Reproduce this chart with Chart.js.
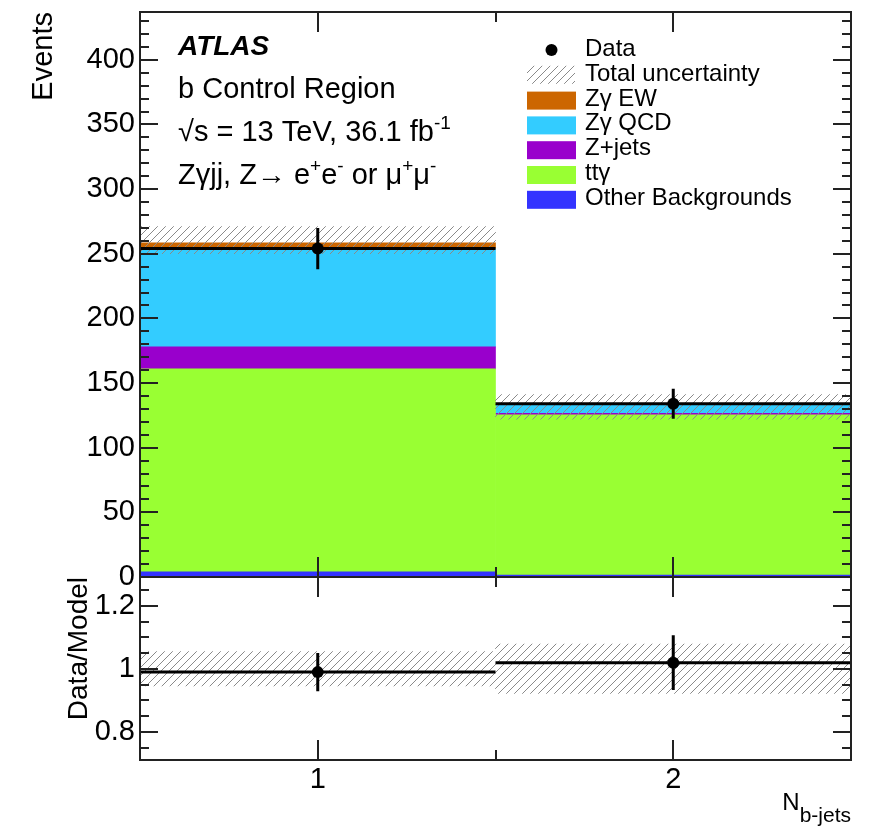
<!DOCTYPE html>
<html>
<head>
<meta charset="utf-8">
<script src="https://cdn.jsdelivr.net/npm/chart.js@4.4.0/dist/chart.umd.min.js"></script>
<style>
  html, body { margin: 0; padding: 0; background: #fff; }
  #wrap { position: relative; width: 874px; height: 829px; }
  #mainBox { position: absolute; left: 0; top: 0; width: 874px; height: 600px; }
  #ratioBox { position: absolute; left: 0; top: 560px; width: 874px; height: 269px; }
</style>
</head>
<body>
<div id="wrap">
  <div id="mainBox"><canvas id="mainChart"></canvas></div>
  <div id="ratioBox"><canvas id="ratioChart"></canvas></div>
</div>
<script>
// N b-jets bins
const bins = ['1', '2'];

// MC contributions, stacked bottom to top
const otherBkg = [4, 1.5];
const ttgamma = [157, 124];
const zjets = [17, 1.1];
const zgQCD = [76, 6.2];
const zgEW = [4.5, 0.8];

// total uncertainty band (events)
const uncLow = [250, 122];
const uncHigh = [271, 141];

// data
const dataVals = [254, 134];
const dataErr = [16, 11.6];

// data / model
const ratioVals = [0.99, 1.02];
const ratioErr = [0.061, 0.087];
const ratioUncLow = [0.946, 0.922];
const ratioUncHigh = [1.055, 1.079];

const eventTicks = [0, 50, 100, 150, 200, 250, 300, 350, 400];
const ratioTicks = [0.8, 1, 1.2];

const FONT = '"Liberation Sans", Arial, Helvetica, sans-serif';
const LABEL_SIZE = 29;
Chart.defaults.font.family = FONT;
Chart.defaults.color = '#000';

// diagonal hatch for the uncertainty band
const hatchCanvas = document.createElement('canvas');
hatchCanvas.width = hatchCanvas.height = 8;
const hg = hatchCanvas.getContext('2d');
hg.strokeStyle = '#8a8a8a';
hg.lineWidth = 1;
hg.beginPath();
hg.moveTo(0, 8); hg.lineTo(8, 0);
hg.moveTo(-1, 1); hg.lineTo(1, -1);
hg.moveTo(7, 9); hg.lineTo(9, 7);
hg.stroke();
const hatch = hg.createPattern(hatchCanvas, 'repeat');

const layers = [
  { label: 'Other Backgrounds', values: otherBkg, color: '#3333ff' },
  { label: 'tt\u03b3', values: ttgamma, color: '#99ff33' },
  { label: 'Z+jets', values: zjets, color: '#9900cc' },
  { label: 'Z\u03b3 QCD', values: zgQCD, color: '#33ccff' },
  { label: 'Z\u03b3 EW', values: zgEW, color: '#cc6600' }
];

const base = bins.map(() => 0);
const stackSets = layers.map(l => ({
  type: 'bar',
  label: l.label,
  data: l.values.map((v, i) => {
    const lo = base[i];
    base[i] += v;
    return [lo, base[i]];
  }),
  backgroundColor: l.color,
  order: 5
}));

// text with super/subscripts: parts = [[text, 'sup'|'sub'|undefined], ...]
function richText(ctx, x, y, parts, size) {
  parts.forEach(([t, mode]) => {
    const s = mode ? Math.round(size * 0.65) : size;
    ctx.font = s + 'px ' + FONT;
    const dy = mode === 'sup' ? -size * 0.42 : mode === 'sub' ? size * 0.3 : 0;
    ctx.fillText(t, x, y + dy);
    x += ctx.measureText(t).width;
  });
  return x;
}

// horizontal data line across each bin plus vertical error bars
function histMarks(values, errors) {
  return {
    id: 'histMarks',
    afterDatasetsDraw(chart) {
      const { ctx, scales: { x, y } } = chart;
      const half = x.width / bins.length / 2;
      ctx.save();
      ctx.strokeStyle = '#000';
      ctx.lineWidth = 3;
      ctx.beginPath();
      values.forEach((v, i) => {
        const cx = x.getPixelForValue(i);
        const py = y.getPixelForValue(v);
        ctx.moveTo(cx - half, py);
        ctx.lineTo(cx + half, py);
        ctx.moveTo(cx, y.getPixelForValue(v - errors[i]));
        ctx.lineTo(cx, y.getPixelForValue(v + errors[i]));
      });
      ctx.stroke();
      ctx.restore();
    }
  };
}

// frame with inward ticks on all four sides
function frameTicks(majors, minorStart, minorStep) {
  return {
    id: 'frameTicks',
    afterDraw(chart) {
      const { ctx, chartArea: a, scales: { x, y } } = chart;
      const half = x.width / bins.length / 2;
      ctx.save();
      ctx.strokeStyle = '#222';
      ctx.lineWidth = 2;
      ctx.beginPath();
      for (let k = 0; ; k++) {
        const v = minorStart + k * minorStep;
        if (v > y.max) break;
        if (v < y.min) continue;
        const major = majors.some(m => Math.abs(m - v) < 1e-6);
        const len = major ? 18 : 9;
        const py = Math.round(y.getPixelForValue(v));
        ctx.moveTo(a.left, py); ctx.lineTo(a.left + len, py);
        ctx.moveTo(a.right, py); ctx.lineTo(a.right - len, py);
      }
      bins.forEach((b, i) => {
        const cx = x.getPixelForValue(i);
        [[cx, 20], [cx - half, 10], [cx + half, 10]].forEach(([px, len]) => {
          px = Math.round(px);
          ctx.moveTo(px, a.bottom); ctx.lineTo(px, a.bottom - len);
          ctx.moveTo(px, a.top); ctx.lineTo(px, a.top + len);
        });
      });
      ctx.stroke();
      ctx.strokeRect(a.left, a.top, a.right - a.left, a.bottom - a.top);
      ctx.restore();
    }
  };
}

// ATLAS label and legend
const atlasText = {
  id: 'atlasText',
  afterDraw(chart) {
    const ctx = chart.ctx;
    ctx.save();
    ctx.fillStyle = '#000';
    ctx.textAlign = 'left';
    ctx.textBaseline = 'alphabetic';
    ctx.font = 'italic bold 28px ' + FONT;
    ctx.fillText('ATLAS', 178, 55);
    richText(ctx, 178, 98, [['b Control Region']], 29);
    richText(ctx, 178, 141, [['\u221as = 13 TeV, 36.1 fb'], ['-1', 'sup']], 29);
    richText(ctx, 178, 184, [['Z\u03b3jj, Z\u2192 e'], ['+', 'sup'], ['e'], ['-', 'sup'],
      [' or \u03bc'], ['+', 'sup'], ['\u03bc'], ['-', 'sup']], 29);

    const rowY = k => 56 + k * 24.8;
    const textX = 585, boxX = 527, boxW = 49, boxH = 18;
    ctx.font = '24px ' + FONT;
    ctx.beginPath();
    ctx.arc(551.5, rowY(0) - 6, 6, 0, Math.PI * 2);
    ctx.fill();
    ctx.fillText('Data', textX, rowY(0));
    ctx.fillStyle = hatch;
    ctx.fillRect(boxX, rowY(1) - 15, boxW - 1, boxH);
    ctx.fillStyle = '#000';
    ctx.fillText('Total uncertainty', textX, rowY(1));
    layers.slice().reverse().forEach((l, k) => {
      const ty = rowY(k + 2);
      ctx.fillStyle = l.color;
      ctx.fillRect(boxX, ty - 14, boxW, boxH);
      ctx.fillStyle = '#000';
      ctx.fillText(l.label, textX, ty);
    });
    ctx.restore();
  }
};

const nbjetsTitle = {
  id: 'nbjetsTitle',
  afterDraw(chart) {
    const ctx = chart.ctx;
    ctx.save();
    ctx.fillStyle = '#000';
    ctx.textAlign = 'left';
    ctx.textBaseline = 'alphabetic';
    ctx.font = '24px ' + FONT;
    const wN = ctx.measureText('N').width;
    ctx.font = '21px ' + FONT;
    const wSub = ctx.measureText('b-jets').width;
    const x0 = 851 - wN - wSub;
    ctx.font = '24px ' + FONT;
    ctx.fillText('N', x0, 250);
    ctx.font = '21px ' + FONT;
    ctx.fillText('b-jets', x0 + wN, 262);
    ctx.restore();
  }
};

const barDefaults = { grouped: false, barPercentage: 1, categoryPercentage: 1, borderWidth: 0 };

function noPadding(s) {
  s.paddingTop = 0;
  s.paddingBottom = 0;
  s.paddingLeft = 0;
  s.paddingRight = 0;
}

new Chart(document.getElementById('mainChart'), {
  type: 'bar',
  data: {
    labels: bins,
    datasets: [
      {
        type: 'line',
        label: 'Data',
        data: dataVals,
        showLine: false,
        pointRadius: 6,
        pointBackgroundColor: '#000',
        pointBorderWidth: 0,
        order: 0
      },
      {
        type: 'bar',
        label: 'Total uncertainty',
        data: bins.map((b, i) => [uncLow[i], uncHigh[i]]),
        backgroundColor: hatch,
        order: 2
      },
      ...stackSets
    ]
  },
  options: {
    responsive: true,
    maintainAspectRatio: false,
    animation: false,
    events: [],
    layout: { padding: { top: 12, right: 23, bottom: 23, left: 0 } },
    datasets: { bar: barDefaults },
    plugins: { legend: { display: false }, tooltip: { enabled: false } },
    scales: {
      x: { type: 'category', offset: true, display: false },
      y: {
        min: 0,
        max: 437,
        grid: { display: false, drawTicks: false },
        border: { display: false },
        afterBuildTicks: s => { s.ticks = eventTicks.map(v => ({ value: v })); },
        afterFit: s => { s.width = 140; noPadding(s); },
        ticks: { font: { size: LABEL_SIZE }, padding: 5, color: '#000' },
        title: {
          display: true,
          text: 'Events',
          align: 'end',
          font: { size: LABEL_SIZE },
          color: '#000',
          padding: { top: 27, bottom: 0 }
        }
      }
    }
  },
  plugins: [histMarks(dataVals, dataErr), frameTicks(eventTicks, 0, 10), atlasText]
});

new Chart(document.getElementById('ratioChart'), {
  type: 'bar',
  data: {
    labels: bins,
    datasets: [
      {
        type: 'line',
        label: 'Data/Model',
        data: ratioVals,
        showLine: false,
        pointRadius: 6,
        pointBackgroundColor: '#000',
        pointBorderWidth: 0,
        order: 0
      },
      {
        type: 'bar',
        label: 'Total uncertainty',
        data: bins.map((b, i) => [ratioUncLow[i], ratioUncHigh[i]]),
        backgroundColor: hatch,
        order: 2
      }
    ]
  },
  options: {
    responsive: true,
    maintainAspectRatio: false,
    animation: false,
    events: [],
    layout: { padding: { top: 17, right: 23, bottom: 0, left: 0 } },
    datasets: { bar: barDefaults },
    plugins: { legend: { display: false }, tooltip: { enabled: false } },
    scales: {
      x: {
        type: 'category',
        offset: true,
        grid: { display: false, drawTicks: false },
        border: { display: false },
        afterFit: s => { s.height = 69; noPadding(s); },
        ticks: { font: { size: LABEL_SIZE }, padding: 3, color: '#000', maxRotation: 0 }
      },
      y: {
        min: 0.711,
        max: 1.292,
        grid: { display: false, drawTicks: false },
        border: { display: false },
        afterBuildTicks: s => { s.ticks = ratioTicks.map(v => ({ value: v })); },
        afterFit: s => { s.width = 140; noPadding(s); },
        ticks: { font: { size: LABEL_SIZE }, padding: 5, color: '#000', callback: v => String(v) },
        title: {
          display: true,
          text: 'Data/Model',
          align: 'end',
          font: { size: 28 },
          color: '#000',
          padding: { top: 62, bottom: 0 }
        }
      }
    }
  },
  plugins: [histMarks(ratioVals, ratioErr), frameTicks(ratioTicks, 0.75, 0.05), nbjetsTitle]
});
</script>
</body>
</html>
